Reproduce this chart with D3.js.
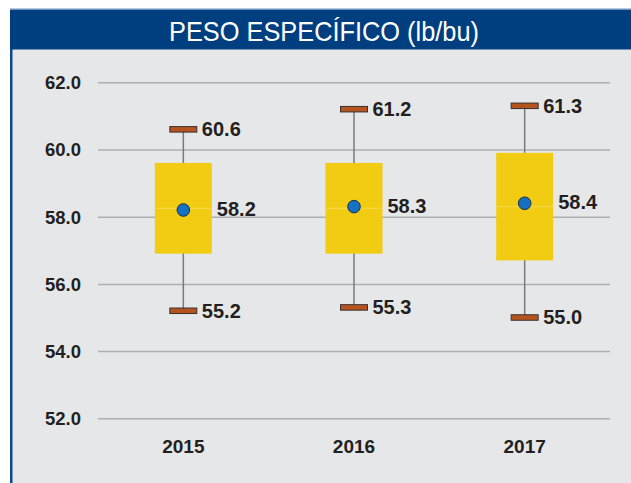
<!DOCTYPE html>
<html>
<head>
<meta charset="utf-8">
<script src="https://cdn.jsdelivr.net/npm/d3@7"></script>
<style>
  body { margin: 0; background: #fff; }
  svg { display: block; }
  .tick text, .lbl { font-family: "Liberation Sans", Arial, sans-serif; font-weight: bold; fill: #231f20; }
</style>
</head>
<body>
<div id="chart"></div>
<script>
// data
var years = ["2015", "2016", "2017"];
var mins = [55.2, 55.3, 55.0];
var q1s = [56.9, 56.9, 56.7];
var medians = [58.25, 58.25, 58.3];
var means = [58.2, 58.3, 58.4];
var q3s = [59.6, 59.6, 59.9];
var maxs = [60.6, 61.2, 61.3];
var yTicks = [52, 54, 56, 58, 60, 62];

var W = 631, H = 483;
var margin = {top: 82.3, bottom: 483 - 418.3, left: 98, right: 631 - 610},
	width = W - margin.left - margin.right,
	height = H - margin.top - margin.bottom;

var svg = d3.select("#chart").append("svg")
		.attr("width", W)
		.attr("height", H);

// frame: grey panel, blue left rule, title bar
svg.append("rect").attr("x", 10).attr("y", 10).attr("width", W - 10).attr("height", H - 10).attr("fill", "#e6e7e8");
svg.append("rect").attr("x", 10).attr("y", 10).attr("width", 2.5).attr("height", H - 10).attr("fill", "#0b4a8b");
svg.append("rect").attr("x", 10).attr("y", 8.5).attr("width", W - 10).attr("height", 1.5).attr("fill", "#6f92c2");
svg.append("rect").attr("x", 10).attr("y", 10).attr("width", W - 10).attr("height", 39.5).attr("fill", "#003f7f");
svg.append("text")
		.attr("x", 324).attr("y", 40.5)
		.attr("text-anchor", "middle")
		.attr("textLength", 310)
		.attr("lengthAdjust", "spacingAndGlyphs")
		.style("font-family", "'Liberation Sans Narrow', 'Liberation Sans', sans-serif")
		.style("font-size", "28px")
		.style("fill", "#fff")
		.text("PESO ESPECÍFICO (lb/bu)");

var g = svg.append("g")
		.attr("transform", "translate(" + margin.left + ", " + margin.top + ")");

var x = d3.scaleBand()
		.domain(years)
		.range([0, width]);

var y = d3.scaleLinear()
		.domain([52, 62])
		.range([height, 0]);

var yAxis = d3.axisLeft(y)
		.tickValues(yTicks)
		.tickSize(-width)
		.tickPadding(17)
		.tickFormat(d3.format(".1f"));

var yg = g.append("g").call(yAxis);
yg.select(".domain").remove();
yg.selectAll(".tick line").attr("stroke", "#aeafb1").attr("stroke-width", 1.5);
yg.selectAll(".tick text").style("font-size", "18.5px").attr("dy", "0.35em");

var xg = g.append("g")
		.attr("transform", "translate(0," + height + ")")
		.call(d3.axisBottom(x).tickSize(0).tickPadding(21));
xg.select(".domain").remove();
xg.selectAll(".tick text").style("font-size", "19px");

var data = years.map(function(d, i) {
	return {year: d, min: mins[i], q1: q1s[i], med: medians[i], mean: means[i], q3: q3s[i], max: maxs[i]};
});

var boxW = 57, capW = 27, capH = 5.5;

var box = g.selectAll(".box").data(data).enter().append("g")
		.attr("class", "box")
		.attr("transform", function(d) { return "translate(" + (x(d.year) + x.bandwidth() / 2) + ",0)"; });

box.append("line")
		.attr("x1", 0).attr("x2", 0)
		.attr("y1", function(d) { return y(d.max); })
		.attr("y2", function(d) { return y(d.min); })
		.attr("stroke", "#7a7a7c").attr("stroke-width", 1.5);

box.append("rect")
		.attr("x", -boxW / 2).attr("width", boxW)
		.attr("y", function(d) { return y(d.q3); })
		.attr("height", function(d) { return y(d.q1) - y(d.q3); })
		.attr("fill", "#f2cc12");

box.append("line")
		.attr("x1", -boxW / 2).attr("x2", boxW / 2)
		.attr("y1", function(d) { return y(d.med); })
		.attr("y2", function(d) { return y(d.med); })
		.attr("stroke", "#f4d954").attr("stroke-width", 1);

["max", "min"].forEach(function(k) {
	box.append("rect")
			.attr("x", -capW / 2).attr("width", capW)
			.attr("y", function(d) { return y(d[k]) - capH / 2; })
			.attr("height", capH)
			.attr("fill", "#b5541f").attr("stroke", "#3a3030").attr("stroke-width", 1);
	box.append("text")
			.attr("class", "lbl")
			.attr("x", capW / 2 + 5)
			.attr("y", function(d) { return y(d[k]); })
			.attr("dy", "0.35em")
			.style("font-size", "20px")
			.text(function(d) { return d[k].toFixed(1); });
});

box.append("circle")
		.attr("cy", function(d) { return y(d.mean); })
		.attr("r", 6.3)
		.attr("fill", "#1572c2").attr("stroke", "#1d2d4a").attr("stroke-width", 1);

box.append("text")
		.attr("class", "lbl")
		.attr("x", boxW / 2 + 5)
		.attr("y", function(d) { return y(d.mean) - 1; })
		.attr("dy", "0.35em")
		.style("font-size", "20px")
		.text(function(d) { return d.mean.toFixed(1); });
</script>
</body>
</html>
